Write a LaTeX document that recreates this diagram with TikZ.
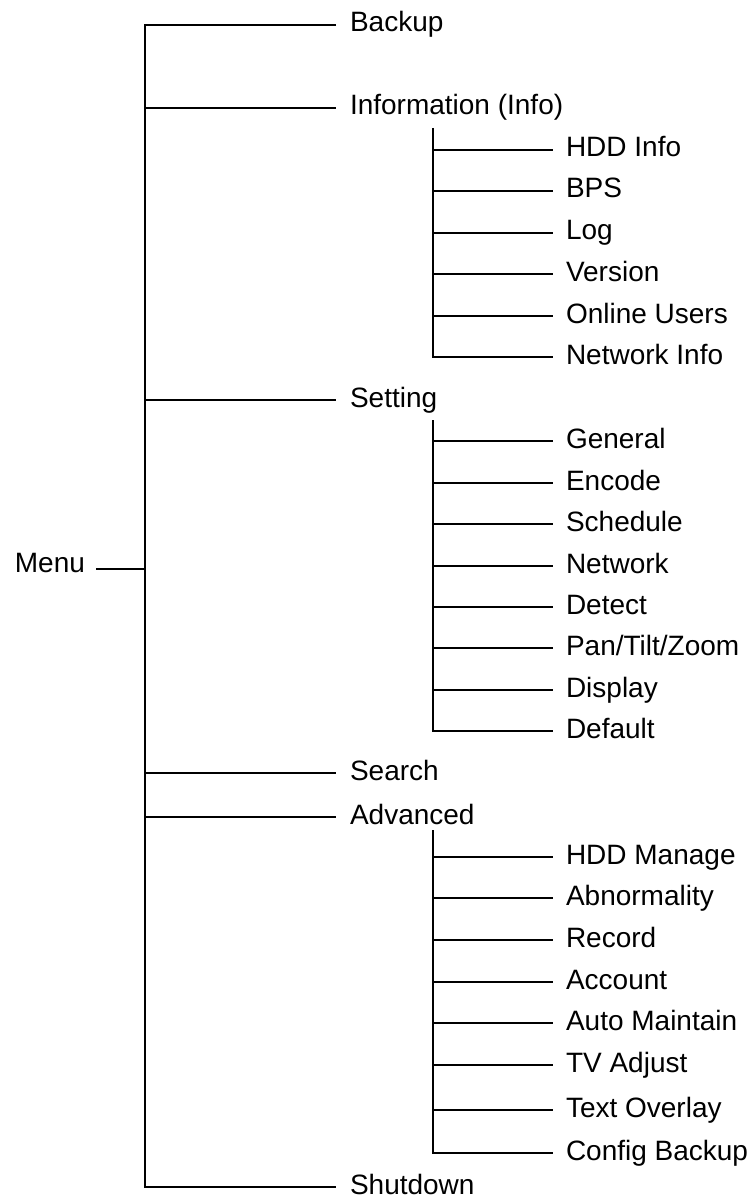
\documentclass[tikz,border=0pt]{standalone}
\usepackage{fontspec}
\setmainfont{Liberation Sans}
\begin{document}
\begin{tikzpicture}[x=1pt,y=-1pt,line width=1.8pt,line join=miter,
  lbl/.style={anchor=west,inner sep=0pt,outer xsep=14pt,outer ysep=0pt,
    text height=20pt,text depth=6pt,font=\fontsize{28}{32}\selectfont},
  sublbl/.style={lbl,outer xsep=13pt}]
\useasboundingbox (0,0) rectangle (755,1198);
% Root
\node[anchor=base west,inner sep=0pt,font=\fontsize{28}{32}\selectfont] (menu) at (14,572) {Menu};
\coordinate (menuR) at (96,569);
\coordinate (mid) at (145,569);
\coordinate (mtop) at (145,25);
\coordinate (mbot) at (145,1187);
% Top level
\node[lbl] (backup) at (336,25) {Backup};
\node[lbl] (info) at (336,108) {Information (Info)};
\node[lbl] (setting) at (336,400) {Setting};
\node[lbl] (search) at (336,773) {Search};
\node[lbl] (adv) at (336,817) {Advanced};
\node[lbl] (shut) at (336,1187) {Shutdown};
\draw (menuR) -- (mid);
\draw (backup) -- (mtop) -- (mbot) -- (shut);
\draw (mtop |- info) -- (info);
\draw (mtop |- setting) -- (setting);
\draw (mtop |- search) -- (search);
\draw (mtop |- adv) -- (adv);
% Info children
\coordinate (iT) at (433,128);
\node[sublbl] (i1) at (553,150) {HDD Info};
\node[sublbl] (i2) at (553,191) {BPS};
\node[sublbl] (i3) at (553,233) {Log};
\node[sublbl] (i4) at (553,274) {Version};
\node[sublbl] (i5) at (553,316) {Online Users};
\node[sublbl] (i6) at (553,357) {Network Info};
\draw (iT) -- (iT |- i6) -- (i6);
\foreach \n in {i1,i2,i3,i4,i5} \draw (iT |- \n) -- (\n);
% Setting children
\coordinate (sT) at (433,420);
\node[sublbl] (s1) at (553,441) {General};
\node[sublbl] (s2) at (553,483) {Encode};
\node[sublbl] (s3) at (553,524) {Schedule};
\node[sublbl] (s4) at (553,566) {Network};
\node[sublbl] (s5) at (553,607) {Detect};
\node[sublbl] (s6) at (553,648) {Pan/Tilt/Zoom};
\node[sublbl] (s7) at (553,690) {Display};
\node[sublbl] (s8) at (553,731) {Default};
\draw (sT) -- (sT |- s8) -- (s8);
\foreach \n in {s1,s2,s3,s4,s5,s6,s7} \draw (sT |- \n) -- (\n);
% Advanced children
\coordinate (aT) at (433,830);
\node[sublbl] (a1) at (553,857) {HDD Manage};
\node[sublbl] (a2) at (553,898) {Abnormality};
\node[sublbl] (a3) at (553,940) {Record};
\node[sublbl] (a4) at (553,982) {Account};
\node[sublbl] (a5) at (553,1023) {Auto Maintain};
\node[sublbl] (a6) at (553,1065) {TV Adjust};
\node[sublbl] (a7) at (553,1110) {Text Overlay};
\node[sublbl] (a8) at (553,1153) {Config Backup};
\draw (aT) -- (aT |- a8) -- (a8);
\foreach \n in {a1,a2,a3,a4,a5,a6,a7} \draw (aT |- \n) -- (\n);
\end{tikzpicture}
\end{document}
